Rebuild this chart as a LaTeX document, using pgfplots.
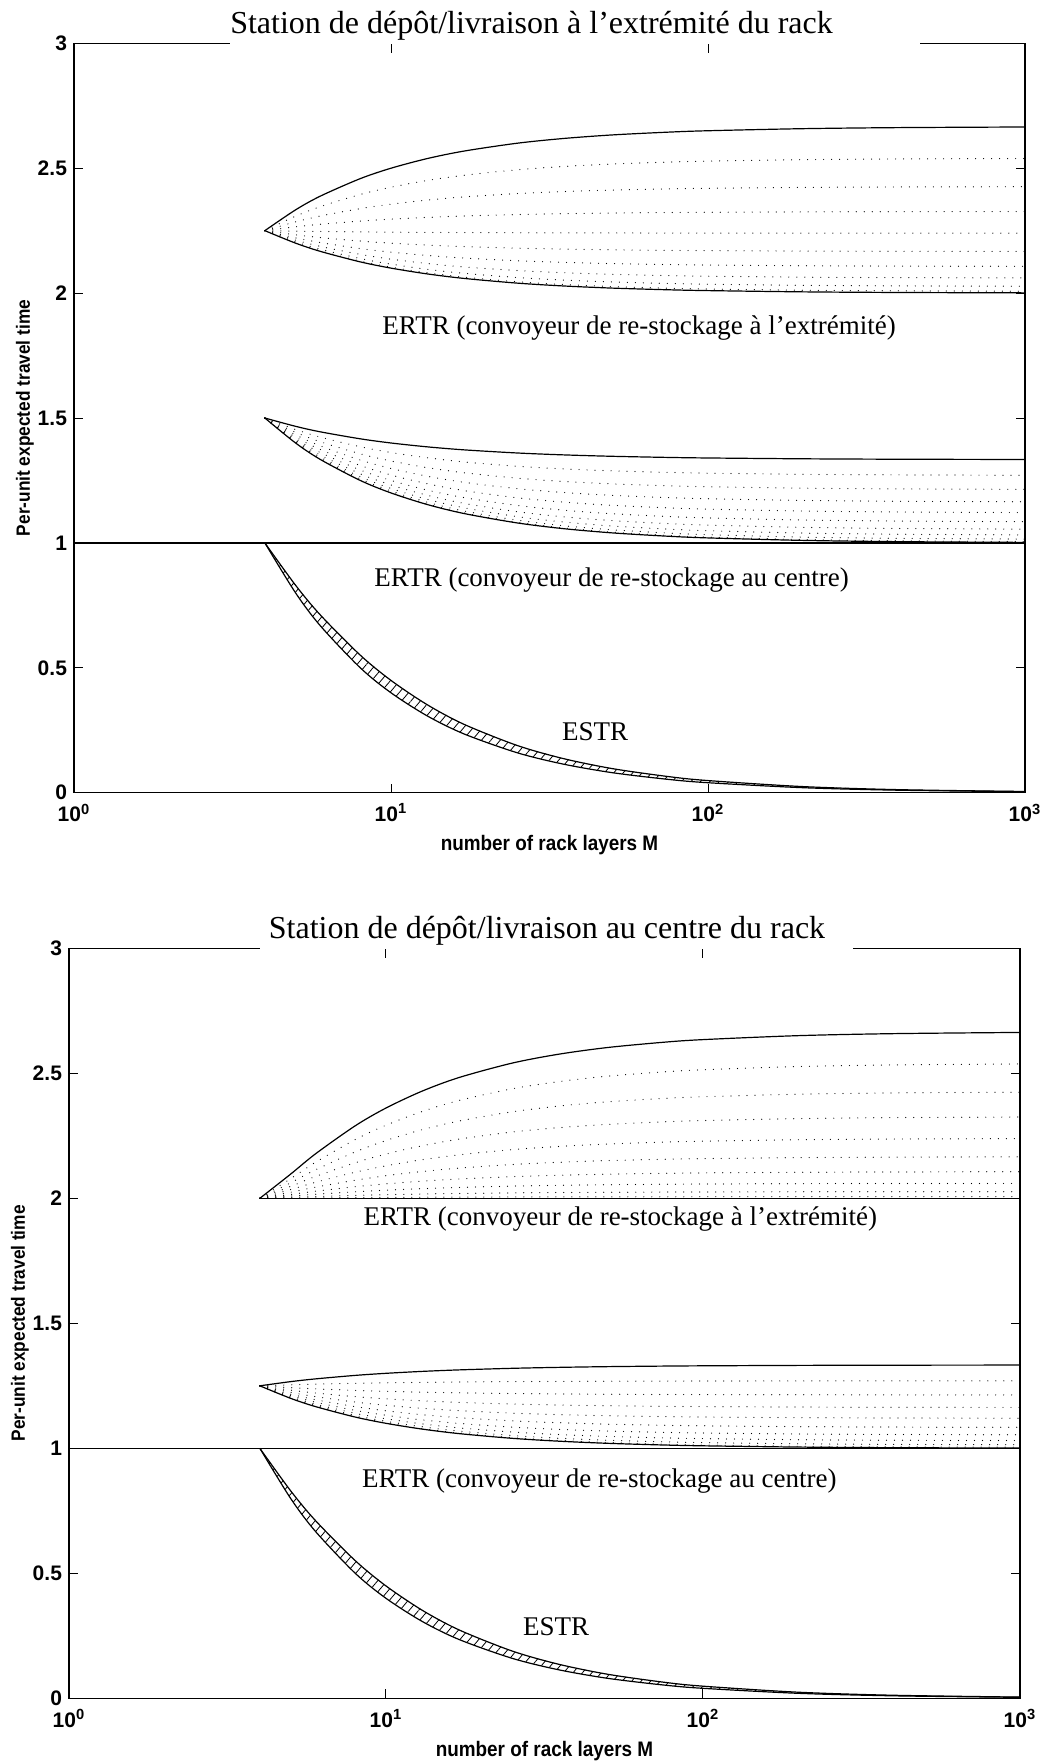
\documentclass[border=0pt]{standalone}
\usepackage{fontspec}
\setmainfont{Liberation Serif}
\newfontfamily\axfont[FakeStretch=0.9]{Liberation Sans}
\newfontfamily\tkfont{Liberation Sans}
\usepackage{pgfplots}
\pgfplotsset{compat=1.18}
\usepackage{pgfplotstable}
\usetikzlibrary{patterns.meta}

\pgfplotstableread{
M p0 p1 p2 p3 p4 p5 p6 p7 p8 p9 p10
4 2.25 2.25 2.25 2.25 2.25 2.25 2.25 2.25 2.25 2.25 2.25
5 2.2 2.2013 2.2053 2.212 2.2213 2.2333 2.248 2.2653 2.2853 2.308 2.3333
6 2.1667 2.1689 2.1756 2.1867 2.2022 2.2222 2.2467 2.2756 2.3089 2.3467 2.3889
8 2.125 2.1283 2.1383 2.155 2.1783 2.2083 2.245 2.2883 2.3383 2.395 2.4583
10 2.1 2.104 2.116 2.136 2.164 2.2 2.244 2.296 2.356 2.424 2.5
13 2.0769 2.0815 2.0954 2.1185 2.1508 2.1923 2.2431 2.3031 2.3723 2.4508 2.5385
17 2.0588 2.0639 2.0792 2.1047 2.1404 2.1863 2.2424 2.3086 2.3851 2.4718 2.5686
25 2.04 2.0456 2.0624 2.0904 2.1296 2.18 2.2416 2.3144 2.3984 2.4936 2.6
35 2.0286 2.0345 2.0522 2.0817 2.1231 2.1762 2.2411 2.3179 2.4065 2.5069 2.619
50 2.02 2.0261 2.0445 2.0752 2.1181 2.1733 2.2408 2.3205 2.4125 2.5168 2.6333
75 2.0133 2.0196 2.0386 2.0701 2.1143 2.1711 2.2405 2.3226 2.4172 2.5245 2.6444
100 2.01 2.0164 2.0356 2.0676 2.1124 2.17 2.2404 2.3236 2.4196 2.5284 2.65
200 2.005 2.0115 2.0311 2.0638 2.1095 2.1683 2.2402 2.3251 2.4231 2.5342 2.6583
400 2.0025 2.0091 2.0289 2.0619 2.1081 2.1675 2.2401 2.3259 2.4249 2.5371 2.6625
1000 2.001 2.0076 2.0276 2.0608 2.1072 2.167 2.24 2.3264 2.426 2.5388 2.665
}\tabTU

\pgfplotstableread{
M p0 p1 p2 p3 p4 p5 p6 p7 p8 p9 p10
4 1.5 1.5 1.5 1.5 1.5 1.5 1.5 1.5 1.5 1.5 1.5
5 1.4 1.4007 1.4027 1.406 1.4107 1.4167 1.424 1.4327 1.4427 1.454 1.4667
6 1.3333 1.3344 1.3378 1.3433 1.3511 1.3611 1.3733 1.3878 1.4044 1.4233 1.4444
8 1.25 1.2517 1.2567 1.265 1.2767 1.2917 1.31 1.3317 1.3567 1.385 1.4167
10 1.2 1.202 1.208 1.218 1.232 1.25 1.272 1.298 1.328 1.362 1.4
13 1.1538 1.1562 1.1631 1.1746 1.1908 1.2115 1.2369 1.2669 1.3015 1.3408 1.3846
17 1.1176 1.1202 1.1278 1.1406 1.1584 1.1814 1.2094 1.2425 1.2808 1.3241 1.3725
25 1.08 1.0828 1.0912 1.1052 1.1248 1.15 1.1808 1.2172 1.2592 1.3068 1.36
35 1.0571 1.0601 1.0689 1.0837 1.1044 1.131 1.1634 1.2018 1.2461 1.2963 1.3524
50 1.04 1.0431 1.0523 1.0676 1.0891 1.1167 1.1504 1.1903 1.2363 1.2884 1.3467
75 1.0267 1.0298 1.0393 1.0551 1.0772 1.1056 1.1403 1.1813 1.2286 1.2823 1.3422
100 1.02 1.0232 1.0328 1.0488 1.0712 1.1 1.1352 1.1768 1.2248 1.2792 1.34
200 1.01 1.0133 1.0231 1.0394 1.0623 1.0917 1.1276 1.1701 1.2191 1.2746 1.3367
400 1.005 1.0083 1.0182 1.0347 1.0578 1.0875 1.1238 1.1667 1.2162 1.2723 1.335
1000 1.002 1.0053 1.0153 1.0319 1.0551 1.085 1.1215 1.1647 1.2145 1.2709 1.334
}\tabTM

\pgfplotstableread{
M p0 p1 p2 p3 p4 p5 p6 p7 p8 p9 p10
4 2 2 2 2 2 2 2 2 2 2 2
5 2 2.001 2.0039 2.0087 2.0155 2.0242 2.0348 2.0474 2.0618 2.0783 2.0966
6 2 2.0018 2.0071 2.0161 2.0285 2.0446 2.0642 2.0874 2.1142 2.1445 2.1784
8 2 2.0029 2.0116 2.0261 2.0464 2.0725 2.1045 2.1422 2.1857 2.2351 2.2902
10 2 2.0036 2.0144 2.0325 2.0578 2.0903 2.13 2.177 2.2311 2.2925 2.3612
13 2 2.0043 2.0172 2.0386 2.0686 2.1072 2.1544 2.2101 2.2744 2.3473 2.4288
17 2 2.0048 2.0193 2.0435 2.0773 2.1208 2.1739 2.2368 2.3092 2.3914 2.4832
25 2 2.0054 2.0216 2.0487 2.0865 2.1352 2.1947 2.265 2.3461 2.4381 2.5408
35 2 2.0058 2.0231 2.0519 2.0922 2.1441 2.2075 2.2824 2.3688 2.4668 2.5763
50 2 2.006 2.0241 2.0543 2.0965 2.1508 2.2171 2.2956 2.386 2.4886 2.6032
75 2 2.0062 2.025 2.0562 2.0999 2.1561 2.2247 2.3059 2.3995 2.5056 2.6242
100 2 2.0063 2.0254 2.0571 2.1016 2.1587 2.2285 2.311 2.4063 2.5142 2.6348
200 2 2.0065 2.026 2.0586 2.1041 2.1627 2.2343 2.3188 2.4164 2.5271 2.6507
400 2 2.0066 2.0263 2.0593 2.1054 2.1647 2.2371 2.3228 2.4216 2.5335 2.6587
1000 2 2.0066 2.0265 2.0597 2.1062 2.1659 2.2388 2.3251 2.4246 2.5374 2.6635
}\tabBU

\pgfplotstableread{
M p0 p1 p2 p3 p4 p5 p6 p7 p8 p9 p10
4 1.25 1.25 1.25 1.25 1.25 1.25 1.25 1.25 1.25 1.25 1.25
5 1.2 1.2007 1.2027 1.206 1.2107 1.2167 1.224 1.2327 1.2427 1.254 1.2667
6 1.1667 1.1678 1.1711 1.1767 1.1844 1.1944 1.2067 1.2211 1.2378 1.2567 1.2778
8 1.125 1.1267 1.1317 1.14 1.1517 1.1667 1.185 1.2067 1.2317 1.26 1.2917
10 1.1 1.102 1.108 1.118 1.132 1.15 1.172 1.198 1.228 1.262 1.3
13 1.0769 1.0792 1.0862 1.0977 1.1138 1.1346 1.16 1.19 1.2246 1.2638 1.3077
17 1.0588 1.0614 1.069 1.0818 1.0996 1.1225 1.1506 1.1837 1.222 1.2653 1.3137
25 1.04 1.0428 1.0512 1.0652 1.0848 1.11 1.1408 1.1772 1.2192 1.2668 1.32
35 1.0286 1.0315 1.0404 1.0551 1.0758 1.1024 1.1349 1.1732 1.2175 1.2677 1.3238
50 1.02 1.0231 1.0323 1.0476 1.0691 1.0967 1.1304 1.1703 1.2163 1.2684 1.3267
75 1.0133 1.0165 1.026 1.0417 1.0638 1.0922 1.1269 1.168 1.2153 1.2689 1.3289
100 1.01 1.0132 1.0228 1.0388 1.0612 1.09 1.1252 1.1668 1.2148 1.2692 1.33
200 1.005 1.0083 1.0181 1.0344 1.0573 1.0867 1.1226 1.1651 1.2141 1.2696 1.3317
400 1.0025 1.0058 1.0157 1.0322 1.0553 1.085 1.1213 1.1642 1.2137 1.2698 1.3325
1000 1.001 1.0043 1.0143 1.0309 1.0541 1.084 1.1205 1.1637 1.2135 1.2699 1.333
}\tabBM

\pgfplotstableread{
M lo hi
4 1 1
5 0.8 0.8305
6 0.6667 0.7101
8 0.5 0.5506
10 0.4 0.4495
13 0.3077 0.3525
17 0.2353 0.2737
25 0.16 0.1892
35 0.1143 0.1365
50 0.08 0.0963
75 0.0533 0.0646
100 0.04 0.0486
200 0.02 0.0244
400 0.01 0.0122
1000 0.004 0.0049
}\tabES

% ESTR band outline: along the upper edge, then back along the lower edge
\pgfplotstableread{
M y
4 1
5 0.8305
6 0.7101
8 0.5506
10 0.4495
13 0.3525
17 0.2737
25 0.1892
35 0.1365
50 0.0963
75 0.0646
100 0.0486
200 0.0244
400 0.0122
1000 0.0049
1000 0.004
400 0.01
200 0.02
100 0.04
75 0.0533
50 0.08
35 0.1143
25 0.16
17 0.2353
13 0.3077
10 0.4
8 0.5
6 0.6667
5 0.8
4 1
}\tabBand

\tikzset{
  solc/.style={black, line width=0.6pt, smooth},
  dotc/.style={black, line width=0.6pt, line cap=round, dash pattern=on 0pt off 4pt, smooth},
  hatchc/.style={draw=none, pattern={Lines[angle=50,distance=3.6pt,line width=0.4pt]}},
}

\newcommand\tickf{\tkfont\bfseries\fontsize{10.5}{12}\selectfont}
\newcommand\labf{\axfont\bfseries\fontsize{10.5}{12}\selectfont}
\newcommand\ylabf{\axfont\bfseries\fontsize{9.6}{11}\selectfont}

\begin{document}
\begin{tikzpicture}
\useasboundingbox (0,0) rectangle (521.5pt,-881pt);

% ---------- top panel ----------
\begin{axis}[
    scale only axis, width=475.5pt, height=374.7pt,
    at={(37pt,-396.35pt)}, anchor=south west,
    xmode=log, xmin=1, xmax=1000, ymin=0, ymax=3,
    xtick={1,10,100,1000},
    xticklabels={10\textsuperscript{0},10\textsuperscript{1},10\textsuperscript{2},10\textsuperscript{3}},
    ytick={0,0.5,1,1.5,2,2.5,3},
    yticklabels={0,0.5,1,1.5,2,2.5,3},
    xminorticks=false, yminorticks=false,
    tick align=inside, major tick length=4.6pt,
    axis line style={line width=0.7pt},
    every tick/.style={black, line width=0.5pt},
    xticklabel style={font=\tickf, yshift=-2pt},
    yticklabel style={font=\tickf},
    xlabel style={font=\labf, at={(axis description cs:0.5,-0.0698)}, anchor=center},
    ylabel style={font=\ylabf, at={(axis description cs:-0.0515,0.5)}, anchor=center},
    xlabel={number of rack layers M},
    ylabel={Per-unit expected travel time},
  ]
\pgfplotsinvokeforeach{1,...,9}{
  \addplot[dotc] table[x=M,y=p#1]{\tabTU};
  \addplot[dotc] table[x=M,y=p#1]{\tabTM};
}
\addplot[solc] table[x=M,y=p0]{\tabTU};
\addplot[solc] table[x=M,y=p10]{\tabTU};
\addplot[solc] table[x=M,y=p0]{\tabTM};
\addplot[solc] table[x=M,y=p10]{\tabTM};
\addplot[black, line width=0.7pt] coordinates {(1,1) (1000,1)};
\addplot[hatchc] table[x=M,y=y]{\tabBand};
\addplot[solc] table[x=M,y=lo]{\tabES};
\addplot[solc] table[x=M,y=hi]{\tabES};
\end{axis}

% ---------- bottom panel ----------
\begin{axis}[
    scale only axis, width=475.5pt, height=375pt,
    at={(34.5pt,-849.15pt)}, anchor=south west,
    xmode=log, xmin=1, xmax=1000, ymin=0, ymax=3,
    xtick={1,10,100,1000},
    xticklabels={10\textsuperscript{0},10\textsuperscript{1},10\textsuperscript{2},10\textsuperscript{3}},
    ytick={0,0.5,1,1.5,2,2.5,3},
    yticklabels={0,0.5,1,1.5,2,2.5,3},
    xminorticks=false, yminorticks=false,
    tick align=inside, major tick length=4.6pt,
    axis line style={line width=0.7pt},
    every tick/.style={black, line width=0.5pt},
    xticklabel style={font=\tickf, yshift=-2pt},
    yticklabel style={font=\tickf},
    xlabel style={font=\labf, at={(axis description cs:0.5,-0.0698)}, anchor=center},
    ylabel style={font=\ylabf, at={(axis description cs:-0.0515,0.5)}, anchor=center},
    xlabel={number of rack layers M},
    ylabel={Per-unit expected travel time},
  ]
\pgfplotsinvokeforeach{1,...,9}{
  \addplot[dotc] table[x=M,y=p#1]{\tabBU};
  \addplot[dotc] table[x=M,y=p#1]{\tabBM};
}
\addplot[solc] table[x=M,y=p0]{\tabBU};
\addplot[solc] table[x=M,y=p10]{\tabBU};
\addplot[solc] table[x=M,y=p0]{\tabBM};
\addplot[solc] table[x=M,y=p10]{\tabBM};
\addplot[black, line width=0.7pt] coordinates {(1,1) (1000,1)};
\addplot[hatchc] table[x=M,y=y]{\tabBand};
\addplot[solc] table[x=M,y=lo]{\tabES};
\addplot[solc] table[x=M,y=hi]{\tabES};
\end{axis}

% titles (white box interrupts the top frame line, as in the original)
\fill[white] (115pt,-8pt) rectangle (460pt,-22.2pt);
\node[anchor=base, inner sep=0, font=\fontsize{16}{18}\selectfont] at (265.75pt,-16.75pt)
  {Station de dépôt/livraison à l’extrémité du rack};
\fill[white] (130pt,-460pt) rectangle (426.5pt,-474.6pt);
\node[anchor=base, inner sep=0, font=\fontsize{16}{18}\selectfont] at (273.5pt,-469.25pt)
  {Station de dépôt/livraison au centre du rack};

% annotations
\begin{scope}[every node/.style={anchor=base west, inner sep=0, font=\fontsize{13.5}{15}\selectfont}]
\node at (191pt,-167pt) {ERTR (convoyeur de re-stockage à l’extrémité)};
\node at (187pt,-293.35pt) {ERTR (convoyeur de re-stockage au centre)};
\node at (280.85pt,-370.35pt) {ESTR};
\node at (181.65pt,-612.5pt) {ERTR (convoyeur de re-stockage à l’extrémité)};
\node at (180.85pt,-743.65pt) {ERTR (convoyeur de re-stockage au centre)};
\node at (261.3pt,-817.75pt) {ESTR};
\end{scope}
\end{tikzpicture}
\end{document}
